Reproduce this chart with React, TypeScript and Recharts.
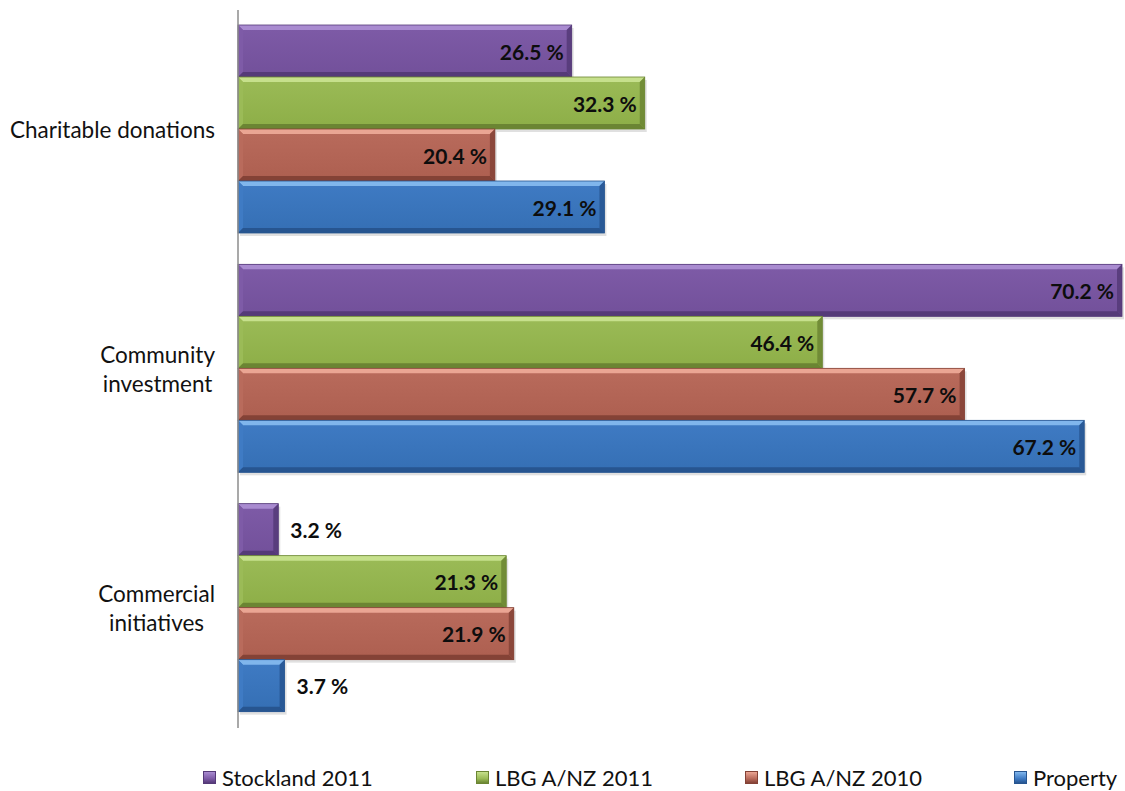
import { Bar, BarChart, LabelList, XAxis, YAxis } from 'recharts';

const categories = ['Charitable donations', 'Community\ninvestment', 'Commercial\ninitiatives'];
const seriesNames = ['Stockland 2011', 'LBG A/NZ 2011', 'LBG A/NZ 2010', 'Property'];
const stockland2011 = [26.5, 70.2, 3.2];
const lbg2011 = [32.3, 46.4, 21.3];
const lbg2010 = [20.4, 57.7, 21.9];
const property = [29.1, 67.2, 3.7];

const seriesKeys = ['stockland2011', 'lbg2011', 'lbg2010', 'property'];
const palette = [
  { base: '#7e5ba7', low: '#72509a', light: '#a98bd0', dark: '#553a78' },
  { base: '#9bbb57', low: '#8dae47', light: '#c6e08c', dark: '#6b8533' },
  { base: '#b96b5c', low: '#ad5f50', light: '#eaa593', dark: '#844236' },
  { base: '#3f7bc4', low: '#356fb4', light: '#80b6ec', dark: '#275590' },
];

const data = categories.map((name, i) => ({
  name,
  stockland2011: stockland2011[i],
  lbg2011: lbg2011[i],
  lbg2010: lbg2010[i],
  property: property[i],
}));

const FONT = 'Lato, "Open Sans", sans-serif';
const BEVEL = 5;
const TICK_SIZE = 22.5;

function makeShape(idx: number) {
  const c = palette[idx];
  return (props: any) => {
    const { x, y, width: w, height: h } = props;
    if (!w || w <= 0) return <g />;
    const b = Math.min(BEVEL, w / 2, h / 2);
    const gid = `grad-${idx}`;
    return (
      <g>
        <defs>
          <linearGradient id={gid} x1="0" y1="0" x2="0" y2="1">
            <stop offset="0%" stopColor={c.base} />
            <stop offset="100%" stopColor={c.low} />
          </linearGradient>
        </defs>
        <rect x={x + 2} y={y + 3} width={w} height={h} fill="rgba(0,0,0,0.12)" />
        <rect x={x} y={y} width={w} height={h} fill={`url(#${gid})`} />
        <polygon points={`${x},${y} ${x + w},${y} ${x + w - b},${y + b} ${x + b},${y + b}`} fill={c.light} />
        <polygon points={`${x},${y} ${x + b},${y + b} ${x + b},${y + h - b} ${x},${y + h}`} fill={c.base} />
        <polygon points={`${x},${y + h} ${x + b},${y + h - b} ${x + w - b},${y + h - b} ${x + w},${y + h}`} fill={c.dark} />
        <polygon points={`${x + w},${y} ${x + w},${y + h} ${x + w - b},${y + h - b} ${x + w - b},${y + b}`} fill={c.dark} opacity={0.85} />
        <rect x={x} y={y} width={w} height={h} fill="none" stroke={c.dark} strokeWidth={0.8} />
      </g>
    );
  };
}

function renderLabel(props: any) {
  const { x, y, width, height, value } = props;
  const cy = y + height / 2;
  const inside = width > 60;
  return (
    <text
      x={inside ? x + width - 8 : x + width + 12}
      y={cy}
      textAnchor={inside ? 'end' : 'start'}
      dominantBaseline="central"
      fontFamily={FONT}
      fontWeight={700}
      fontSize={21}
      fill="#0d0d0d"
    >
      {`${value} %`}
    </text>
  );
}

let measureCtx: CanvasRenderingContext2D | null = null;
function textWidth(s: string) {
  if (!measureCtx) measureCtx = document.createElement('canvas').getContext('2d');
  if (!measureCtx) return s.length * 10;
  measureCtx.font = `${TICK_SIZE}px ${FONT}`;
  return measureCtx.measureText(s).width;
}

function CategoryTick(props: any) {
  const { x, y, payload } = props;
  const lines = String(payload.value).split('\n');
  const maxW = Math.max(...lines.map(textWidth));
  const cx = x - 15 - maxW / 2;
  const lh = 29;
  return (
    <text x={cx} y={y} textAnchor="middle" fontFamily={FONT} fontSize={TICK_SIZE} fill="#111">
      {lines.map((l, i) => (
        <tspan key={i} x={cx} y={y + (i - (lines.length - 1) / 2) * lh} dominantBaseline="central">
          {l}
        </tspan>
      ))}
    </text>
  );
}

const legendX = [203, 476, 745, 1014];

function ChartLegend() {
  return (
    <div style={{ position: 'absolute', left: 0, top: 764, width: 1125, height: 24, fontFamily: FONT, fontSize: 22, color: '#111' }}>
      {seriesNames.map((n, i) => (
        <div
          key={n}
          style={{ position: 'absolute', left: legendX[i], top: 0, display: 'flex', alignItems: 'center', gap: 6, whiteSpace: 'nowrap' }}
        >
          <span
            style={{
              width: 13,
              height: 13,
              background: `linear-gradient(${palette[i].light}, ${palette[i].base} 60%, ${palette[i].dark})`,
              border: `1px solid ${palette[i].dark}`,
              boxSizing: 'border-box',
              display: 'inline-block',
            }}
          />
          <span>{n}</span>
        </div>
      ))}
    </div>
  );
}

export default function App() {
  return (
    <div style={{ position: 'absolute', left: 0, top: 0, width: 1125, height: 791, background: '#fff' }}>
      <BarChart
        width={1125}
        height={791}
        data={data}
        layout="vertical"
        margin={{ top: 10, right: 3, left: 0, bottom: 63 }}
        barCategoryGap={15}
        barGap={0}
      >
        <XAxis type="number" domain={[0, 70.2]} hide />
        <YAxis
          type="category"
          dataKey="name"
          width={238}
          axisLine={{ stroke: '#8c8c8c', strokeWidth: 1.5 }}
          tickLine={false}
          tick={<CategoryTick />}
        />
        {seriesKeys.map((k, i) => (
          <Bar key={k} dataKey={k} name={seriesNames[i]} fill={palette[i].base} shape={makeShape(i)} isAnimationActive={false}>
            <LabelList dataKey={k} content={renderLabel} />
          </Bar>
        ))}
      </BarChart>
      <ChartLegend />
    </div>
  );
}
